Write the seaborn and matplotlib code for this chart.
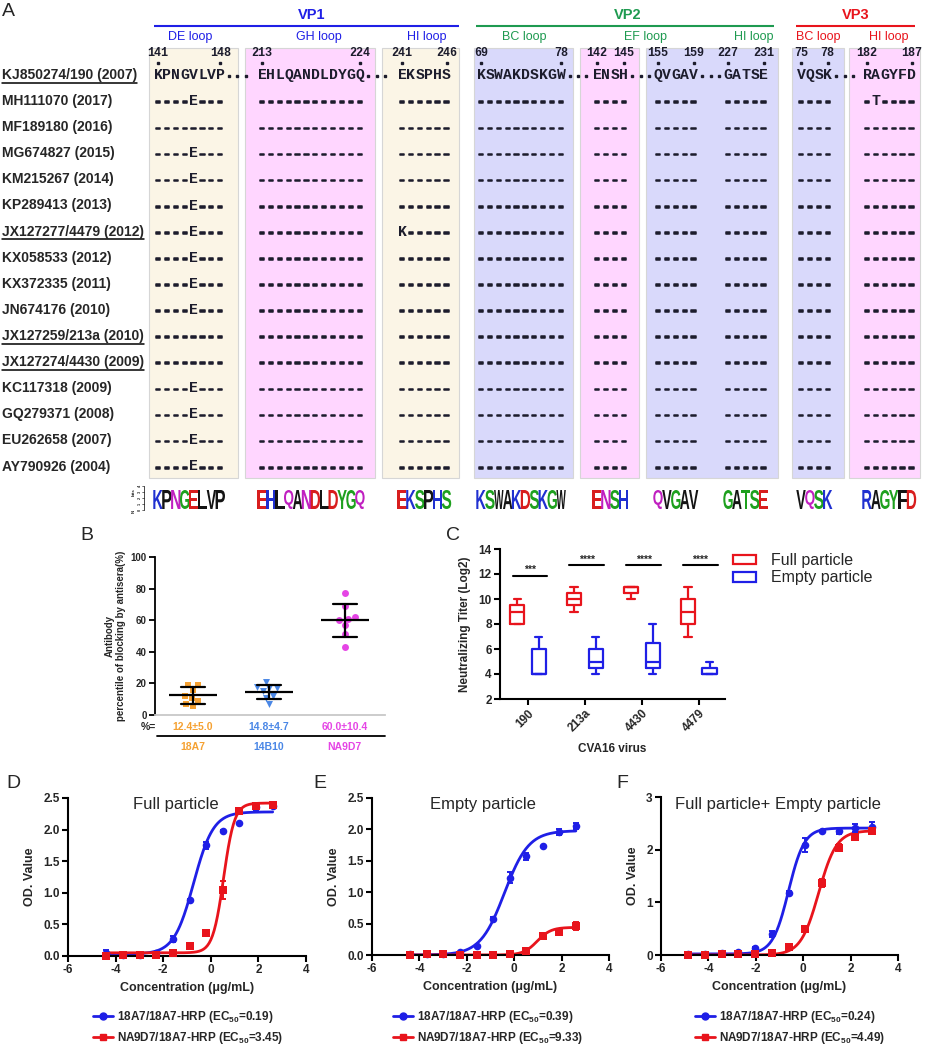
import numpy as np
import pandas as pd
import matplotlib
matplotlib.use("Agg")
import matplotlib.pyplot as plt
import matplotlib.patheffects as pe
import seaborn as sns
from matplotlib.patches import Rectangle, PathPatch, Patch
from matplotlib.lines import Line2D
from matplotlib.textpath import TextPath
from matplotlib.font_manager import FontProperties
from matplotlib.transforms import Affine2D

# ---------------- panel A: alignment ----------------
strains = ['KJ850274/190 (2007)', 'MH111070 (2017)', 'MF189180 (2016)', 'MG674827 (2015)',
           'KM215267 (2014)', 'KP289413 (2013)', 'JX127277/4479 (2012)', 'KX058533 (2012)',
           'KX372335 (2011)', 'JN674176 (2010)', 'JX127259/213a (2010)', 'JX127274/4430 (2009)',
           'KC117318 (2009)', 'GQ279371 (2008)', 'EU262658 (2007)', 'AY790926 (2004)']
underlined = ['KJ850274/190 (2007)', 'JX127277/4479 (2012)', 'JX127259/213a (2010)',
              'JX127274/4430 (2009)']
proteins = ['VP1', 'VP2', 'VP3']
loops = ['DE loop', 'GH loop', 'HI loop', 'BC loop', 'EF loop', 'HI loop', 'BC loop', 'HI loop']
ref_segments = ['KPNGVLVP', 'EHLQANDLDYGQ', 'EKSPHS', 'KSWAKDSKGW', 'ENSH', 'QVGAV', 'GATSE',
                'VQSK', 'RAGYFD']
segment_ends = [(141, 148), (213, 224), (241, 246), (69, 78), (142, 145), (155, 159),
                (227, 231), (75, 78), (182, 187)]
logo_segments = ['KPNGELVP', 'EHLQANDLDYGQ', 'EKSPHS', 'KSWAKDSKGW', 'ENSH', 'QVGAV', 'GATSE',
                 'VQSK', 'RAGYFD']
vp1_de_rows = ['----E---', '--------', '----E---', '----E---', '----E---', '----E---', '----E---',
               '----E---', '----E---', '--------', '--------', '----E---', '----E---', '----E---',
               '----E---']
vp1_hi_rows = ['------'] * 5 + ['K-----'] + ['------'] * 9
vp3_hi_rows = ['-T----'] + ['------'] * 14
variant_rows = {0: vp1_de_rows, 2: vp1_hi_rows, 8: vp3_hi_rows}

# ---------------- panel B: blocking ----------------
antibodies = ['18A7', '14B10', 'NA9D7']
block_18a7 = [19, 19, 16, 12, 11, 9, 7, 6]
block_14b10 = [21, 18, 17, 17, 15, 12, 11, 7]
block_na9d7 = [77, 69, 62, 61, 60, 57, 51, 43]
block_stats = ['12.4±5.0', '14.8±4.7', '60.0±10.4']

# ---------------- panel C: titers (min, q1, median, q3, max) ----------------
viruses = ['190', '213a', '4430', '4479']
full_titer = [[8, 8, 9, 9.5, 10], [9, 9.5, 10, 10.5, 11], [10, 10.5, 11, 11, 11], [7, 8, 9, 10, 11]]
empty_titer = [[4, 4, 4, 6, 7], [4, 4.5, 5, 6, 7], [4, 4.5, 5, 6.5, 8], [4, 4, 4, 4.5, 5]]
sig_labels = ['***', '****', '****', '****']
sig_heights = [11.85, 12.7, 12.7, 12.7]

# ---------------- panels D-F: ELISA ----------------
dose_de = [-4.39, -3.69, -2.99, -2.29, -1.59, -0.89, -0.19, 0.51, 1.20, 1.90, 2.60]
dose_f = [-4.85, -4.13, -3.42, -2.73, -2.03, -1.32, -0.61, 0.09, 0.80, 1.50, 2.20, 2.90]

d_blue = [0.05, 0.01, 0.01, 0.05, 0.27, 0.88, 1.75, 1.98, 2.10, 2.36, 2.38]
d_blue_err = [0.04, 0.01, 0.01, 0.02, 0.05, 0.02, 0.06, 0.01, 0.01, 0.05, 0.02]
d_red = [0.00, 0.01, 0.01, 0.01, 0.04, 0.16, 0.37, 1.04, 2.29, 2.37, 2.39]
d_red_err = [0.01, 0.00, 0.00, 0.01, 0.02, 0.04, 0.02, 0.14, 0.03, 0.04, 0.02]

e_blue = [0.01, 0.01, 0.01, 0.04, 0.14, 0.58, 1.23, 1.57, 1.73, 1.96, 2.05]
e_blue_err = [0.00, 0.00, 0.01, 0.01, 0.01, 0.02, 0.09, 0.06, 0.01, 0.05, 0.05]
e_red = [0.00, 0.01, 0.01, 0.00, 0.00, 0.00, 0.01, 0.06, 0.30, 0.37, 0.46]
e_red_err = [0.00, 0.00, 0.00, 0.00, 0.00, 0.00, 0.01, 0.02, 0.02, 0.02, 0.06]

f_blue = [0.02, 0.01, 0.03, 0.05, 0.14, 0.40, 1.18, 2.09, 2.36, 2.36, 2.41, 2.43]
f_blue_err = [0.01, 0.01, 0.01, 0.01, 0.02, 0.06, 0.03, 0.13, 0.02, 0.06, 0.08, 0.10]
f_red = [0.00, 0.00, 0.01, 0.01, 0.01, 0.04, 0.16, 0.49, 1.37, 2.04, 2.25, 2.35]
f_red_err = [0.00, 0.00, 0.00, 0.00, 0.01, 0.02, 0.03, 0.04, 0.07, 0.07, 0.05, 0.05]

# 4PL fit parameters: bottom, top, EC50 (ug/mL), hill slope
d_fits = [(0.03, 2.28, 0.19, 1.05), (0.05, 2.42, 3.45, 1.9)]
e_fits = [(0.00, 1.98, 0.39, 0.85), (0.00, 0.44, 9.33, 1.5)]
f_fits = [(0.02, 2.41, 0.24, 1.3), (0.00, 2.36, 4.49, 1.15)]
series_names = ['18A7/18A7-HRP', 'NA9D7/18A7-HRP']

# ---------------- style ----------------
sns.set_theme(style='ticks')
plt.rcParams['font.family'] = ['Liberation Sans', 'DejaVu Sans']
plt.rcParams['font.weight'] = 'bold'
plt.rcParams['axes.labelweight'] = 'bold'
plt.rcParams['axes.unicode_minus'] = False
plt.rcParams['mathtext.fontset'] = 'custom'
plt.rcParams['mathtext.rm'] = 'Liberation Sans'
plt.rcParams['mathtext.bf'] = 'Liberation Sans:bold'
plt.rcParams['mathtext.default'] = 'bf'

BLUE = '#1f1fe6'
GREEN = '#1e9a50'
RED = '#e8141c'
INK = '#1c1c2c'
W, H = 926, 1050
fig = plt.figure(figsize=(W / 100, H / 100), dpi=100)


def px_axes(x0, y0, x1, y1):
    return fig.add_axes([x0 / W, 1 - y1 / H, (x1 - x0) / W, (y1 - y0) / H])


def prism(ax, lw=1.5, size=8.5):
    sns.despine(ax=ax)
    for s in ['left', 'bottom']:
        ax.spines[s].set_linewidth(lw)
        ax.spines[s].set_color('black')
    ax.tick_params(width=lw, length=4, color='black', labelsize=size, pad=2)


bg = fig.add_axes([0, 0, 1, 1])
bg.set_xlim(0, W)
bg.set_ylim(H, 0)
bg.axis('off')

# ---------------- panel A ----------------
seg_x = [158, 262, 402, 481, 597, 658, 728, 801, 867]
dots_after = [0, 1, 3, 4, 5, 7]
CW = 8.9
ROW0, DY = 75, 26.1
box_spans = [(149, 238), (245, 375), (382, 459), (474, 573), (580, 639), (646, 778),
             (792, 844), (849, 920)]
box_colors = ['#fbf5e6', '#ffd6ff', '#fbf5e6', '#d9d9fb', '#ffd6ff', '#d9d9fb', '#d9d9fb',
              '#ffd6ff']
loop_x = [190, 319, 427, 524, 645, 754, 818, 889]
loop_colors = [BLUE] * 3 + [GREEN] * 3 + [RED] * 2
prot_x = [312, 628, 856]
prot_lines = [(154, 459), (476, 774), (796, 915)]
prot_colors = [BLUE, GREEN, RED]

bg.text(8, 11, 'A', fontsize=14, weight='normal', ha='center', va='center')
for name, xc, (x0, x1), c in zip(proteins, prot_x, prot_lines, prot_colors):
    bg.text(xc, 15, name, fontsize=10.5, color=c, ha='center', va='center')
    bg.plot([x0, x1], [26, 26], color=c, lw=1.5, solid_capstyle='butt')
for name, xc, c in zip(loops, loop_x, loop_colors):
    bg.text(xc, 37, name, fontsize=9, weight='normal', color=c, ha='center', va='center')
for (x0, x1), c in zip(box_spans, box_colors):
    bg.add_patch(Rectangle((x0, 48), x1 - x0, 430, fc=c, ec='#d6d6d6', lw=0.8, zorder=0))

renderer = fig.canvas.get_renderer()
for i, name in enumerate(strains):
    y = ROW0 + DY * i
    t = bg.text(2, y, name, fontsize=10, ha='left', va='center')
    if name in underlined:
        bb = t.get_window_extent(renderer)
        bg.plot([2, bb.x1], [y + 7.5, y + 7.5], color='black', lw=1.1)

mono = dict(family='Liberation Mono', weight='bold', fontsize=10.6, color=INK,
            ha='center', va='center')
dash_fx = [pe.withStroke(linewidth=1.1, foreground=INK)]
for k, (ref, x0) in enumerate(zip(ref_segments, seg_x)):
    rows = [ref] + variant_rows.get(k, ['-' * len(ref)] * (len(strains) - 1))
    for i, s in enumerate(rows):
        y = ROW0 + DY * i
        for j, ch in enumerate(s):
            if ch == '-':
                bg.text(x0 + j * CW, y + 1, ch, path_effects=dash_fx, **mono)
            else:
                bg.text(x0 + j * CW, y, ch, **mono)
    last = x0 + (len(ref) - 1) * CW
    if k in dots_after:
        dx = [last + d * 0.95 * CW for d in range(1, 4)]
        bg.plot(dx, [ROW0 + 1] * 3, ls='none', marker='s', ms=1.6, color=INK)
    lo, hi = segment_ends[k]
    for xc, num in [(x0, lo), (last, hi)]:
        bg.text(xc, 53, str(num), ha='center', va='center', family='Liberation Mono',
                weight='bold', fontsize=8.5, color=INK)
    bg.plot([x0, last], [62.5, 62.5], ls='none', marker='s', ms=1.6, color=INK)

# sequence logo
logo_font = FontProperties(family='Liberation Sans', weight='bold')
logo_colors = {}
for aa in 'KRH':
    logo_colors[aa] = '#2030d0'
for aa in 'DE':
    logo_colors[aa] = '#d81e1e'
for aa in 'STGYC':
    logo_colors[aa] = '#1ea01e'
for aa in 'NQ':
    logo_colors[aa] = '#c020c0'
for aa in 'AVLIPWFM':
    logo_colors[aa] = '#141414'

for seq, x0 in zip(logo_segments, seg_x):
    for j, ch in enumerate(seq):
        tp = TextPath((0, 0), ch, size=1, prop=logo_font)
        ext = tp.get_extents()
        w, h = 9.4, 19
        tr = (Affine2D().translate(-ext.x0, -ext.y0)
              .scale(w / ext.width, -h / ext.height)
              .translate(x0 + j * CW - w / 2, 509))
        bg.add_patch(PathPatch(tr.transform_path(tp), fc=logo_colors[ch], ec='none'))
bg.plot([144, 144], [486, 510], color='black', lw=0.5)
for yy, lab in zip([510, 504, 498, 492, 486], ['0', '1', '2', '3', '4']):
    bg.plot([142, 144], [yy, yy], color='black', lw=0.4)
    bg.text(139.5, yy, lab, fontsize=2.8, rotation=90, ha='center', va='center')
bg.text(134, 492, 'bits', fontsize=3.2, rotation=90, ha='center', va='center')
bg.text(134, 511, 'N', fontsize=3.2, rotation=90, ha='center', va='center')

# ---------------- panel B ----------------
ab_colors = ['#f5a132', '#4a87e6', '#e545e5']
ab_markers = ['s', 'v', 'o']
dfb = pd.DataFrame({'antibody': np.repeat(antibodies, 8),
                    'blocking': block_18a7 + block_14b10 + block_na9d7})
axb = px_axes(155, 557, 385, 715)
for ab, c, m in zip(antibodies, ab_colors, ab_markers):
    sns.swarmplot(data=dfb[dfb['antibody'] == ab], x='antibody', y='blocking', order=antibodies,
                  color=c, marker=m, size=5, ax=axb, zorder=3, clip_on=False)
sns.pointplot(data=dfb, x='antibody', y='blocking', order=antibodies, errorbar='sd',
              capsize=0.32, color='black', marker='_', markersize=34, markeredgewidth=1.6,
              linestyle='none', err_kws={'linewidth': 1.6}, ax=axb, zorder=4)
prism(axb, lw=1.3, size=7)
axb.spines['bottom'].set_color('#c8c8c8')
axb.set_xlim(-0.5, 2.53)
axb.set_ylim(0, 100)
axb.set_yticks(range(0, 101, 20))
axb.set_xticks([])
axb.set_xlabel('')
axb.set_ylabel('Antibody\npercentile of blocking by antisera(%)', fontsize=7, labelpad=3)
axb.text(-0.59, -7.6, '%=', fontsize=7.5, ha='center', va='center')
for i, (lab, c) in enumerate(zip(block_stats, ab_colors)):
    axb.text(i, -7.6, lab, fontsize=7.5, color=c, ha='center', va='center')
    axb.text(i, -20.3, antibodies[i], fontsize=7.5, color=c, ha='center', va='center')
axb.plot([-0.47, 2.53], [-13.3, -13.3], color='black', lw=1.3, clip_on=False)
bg.text(87, 535, 'B', fontsize=14, weight='normal', ha='center', va='center')

# ---------------- panel C ----------------
recs = []
for v, fv, ev in zip(viruses, full_titer, empty_titer):
    recs += [(v, 'Full particle', t) for t in fv]
    recs += [(v, 'Empty particle', t) for t in ev]
dfc = pd.DataFrame(recs, columns=['virus', 'particle', 'titer'])
axc = px_axes(500, 549, 725, 699)
sns.boxplot(data=dfc, x='virus', y='titer', hue='particle', order=viruses,
            hue_order=['Full particle', 'Empty particle'], palette=[RED, BLUE], fill=False,
            whis=(0, 100), width=0.76, gap=0.34, linewidth=1.6, legend=False, ax=axc)
prism(axc, lw=1.5, size=8.5)
axc.set_xlim(-0.49, 3.46)
axc.set_ylim(2, 14)
axc.set_yticks(range(2, 15, 2))
axc.set_xticks(range(len(viruses)))
axc.set_xticklabels(viruses, rotation=45, ha='right', va='top', rotation_mode='anchor')
axc.set_ylabel('Neutralizing Titer (Log2)', fontsize=8.5, labelpad=5)
axc.set_xlabel('CVA16 virus', fontsize=8.5)
axc.xaxis.set_label_coords(0.5, -0.29)
for i, (lab, yy) in enumerate(zip(sig_labels, sig_heights)):
    axc.plot([i - 0.27, i + 0.33], [yy, yy], color='black', lw=1.5, clip_on=False)
    axc.text(i + 0.03, yy + 0.05, lab, fontsize=7.5, ha='center', va='bottom')
axc.legend(handles=[Patch(fc='white', ec=RED, lw=1.6, label='Full particle'),
                    Patch(fc='white', ec=BLUE, lw=1.6, label='Empty particle')],
           loc='upper left', bbox_to_anchor=(733 / W, 1 - 553 / H),
           bbox_transform=fig.transFigure, frameon=False,
           prop={'size': 11.5, 'weight': 'normal'}, handlelength=1.45, handleheight=0.55,
           handletextpad=0.9, labelspacing=0.15, borderpad=0, borderaxespad=0)
bg.text(453, 535, 'C', fontsize=14, weight='normal', ha='center', va='center')


# ---------------- panels D-F ----------------
def four_pl(x, bottom, top, ec50, hill):
    return bottom + (top - bottom) / (1 + 10 ** ((np.log10(ec50) - x) * hill))


def elisa_panel(rect, dose, blue, blue_err, red, red_err, fits, ymax, yticks, fmt,
                title, title_xy, letter, letter_x, legend_x):
    ax = px_axes(*rect)
    for y, err, fit, c, m in [(blue, blue_err, fits[0], BLUE, 'o'),
                              (red, red_err, fits[1], RED, 's')]:
        xs = np.linspace(dose[0], dose[-1], 200)
        sns.lineplot(x=xs, y=four_pl(xs, *fit), color=c, lw=2, ax=ax, zorder=2)
        ax.errorbar(dose, y, yerr=err, fmt='none', ecolor=c, elinewidth=1.4, capsize=2.5,
                    capthick=1.4, zorder=3, clip_on=False)
        sns.scatterplot(x=dose, y=y, color=c, marker=m, s=30, linewidth=0, ax=ax, zorder=4,
                        clip_on=False)
    prism(ax)
    ax.set_xlim(-6, 4)
    ax.set_ylim(0, ymax)
    ax.set_xticks(range(-6, 5, 2))
    ax.set_yticks(yticks)
    ax.set_yticklabels([fmt.format(v) for v in yticks])
    ax.set_xlabel('Concentration (μg/mL)', fontsize=9, labelpad=4)
    ax.set_ylabel('OD. Value', fontsize=9, labelpad=5)
    ax.text(title_xy[0], title_xy[1], title, fontsize=12, weight='normal', ha='center',
            va='center')
    handles = [Line2D([0], [0], color=BLUE, marker='o', lw=2, ms=5),
               Line2D([0], [0], color=RED, marker='s', lw=2, ms=5)]
    labels = [f'{series_names[0]} (EC$_{{50}}$={fits[0][2]:.2f})',
              f'{series_names[1]} (EC$_{{50}}$={fits[1][2]:.2f})']
    ax.legend(handles, labels, loc='upper left', bbox_to_anchor=(legend_x / W, 1 - 1009 / H),
              bbox_transform=fig.transFigure, frameon=False, fontsize=8.5, handlelength=1.7,
              handletextpad=0.35, labelspacing=0.45, borderpad=0, borderaxespad=0)
    bg.text(letter_x, 784, letter, fontsize=14, weight='normal', ha='center', va='center')
    return ax


elisa_panel((68, 798, 306, 956), dose_de, d_blue, d_blue_err, d_red, d_red_err, d_fits,
            2.5, [0, 0.5, 1.0, 1.5, 2.0, 2.5], '{:.1f}', 'Full particle', (-1.45, 2.39),
            'D', 13, 93)
elisa_panel((372, 798, 609, 955), dose_de, e_blue, e_blue_err, e_red, e_red_err, e_fits,
            2.5, [0, 0.5, 1.0, 1.5, 2.0, 2.5], '{:.1f}', 'Empty particle', (-1.3, 2.39),
            'E', 320, 393)
elisa_panel((661, 797, 898, 955), dose_f, f_blue, f_blue_err, f_red, f_red_err, f_fits,
            3, [0, 1, 2, 3], '{:.0f}', 'Full particle+ Empty particle', (-1.06, 2.85),
            'F', 622, 695)

fig.savefig('out.png', dpi=100)
